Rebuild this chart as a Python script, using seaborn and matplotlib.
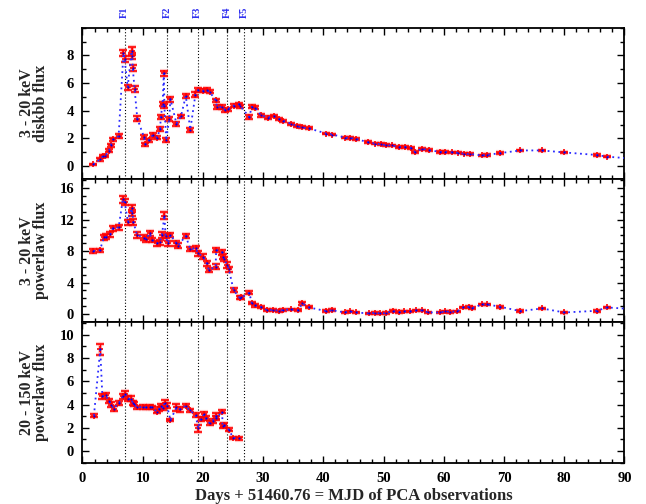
import numpy as np
import pandas as pd
import matplotlib
matplotlib.use("Agg")
import matplotlib.pyplot as plt
from matplotlib.ticker import MultipleLocator
import seaborn as sns

# ---- 3-20 keV disk blackbody flux ----
disk_days = [1.8, 2.9, 3.4, 3.8, 4.4, 4.7, 5.1, 6.0, 6.8, 7.0, 7.5, 8.15, 8.25, 8.35, 8.65,
             9.1, 10.2, 10.45, 11.0, 11.7, 12.4, 12.9, 13.0, 13.3, 13.5, 13.6, 13.9, 14.4,
             14.6, 15.6, 16.35, 17.15, 17.9, 18.75, 19.2, 20.0, 20.6, 21.1, 22.1, 22.35,
             23.2, 23.7, 24.1, 25.1, 26.0, 26.2, 27.7, 28.1, 28.7, 29.6, 30.8, 31.8, 32.7,
             33.3, 34.7, 35.55, 36.4, 37.65, 40.5, 41.5, 43.6, 44.4, 45.4, 47.4, 48.5, 49.5,
             50.4, 51.4, 52.5, 53.6, 54.5, 55.2, 56.4, 57.5, 59.3, 60.2, 61.4, 62.3, 63.3,
             64.4, 66.3, 67.1, 69.4, 72.7, 76.3, 79.9, 85.4, 87.1, 93.0]
disk_flux = [0.12, 0.48, 0.72, 0.75, 1.12, 1.5, 1.93, 2.17, 8.15, 7.72, 5.69, 8.3, 7.96, 7.06, 5.57,
             3.43, 2.11, 1.57, 1.87, 2.25, 2.06, 2.71, 3.55, 4.47, 6.7, 4.33, 1.86, 3.43,
             4.84, 3.07, 3.6, 5.07, 2.63, 5.17, 5.49, 5.44, 5.49, 5.37, 4.76, 4.28,
             4.28, 4.04, 4.11, 4.37, 4.47, 4.33, 3.55, 4.28, 4.23, 3.67, 3.51, 3.6, 3.4,
             3.27, 3.05, 2.9, 2.79, 2.72, 2.35, 2.28, 2.06, 2.04, 1.97, 1.72, 1.63, 1.58,
             1.51, 1.49, 1.37, 1.39, 1.32, 1.03, 1.25, 1.15, 1.03, 1.01, 0.99, 0.96, 0.89,
             0.87, 0.77, 0.8, 0.94, 1.13, 1.13, 0.99, 0.8, 0.68, 0.48]
disk_err = [0.06, 0.08, 0.1, 0.08, 0.1, 0.12, 0.12, 0.12, 0.22, 0.2, 0.2, 0.3, 0.22, 0.22, 0.2,
            0.2, 0.12, 0.12, 0.12, 0.12, 0.12, 0.14, 0.15, 0.15, 0.2, 0.15, 0.15, 0.15,
            0.18, 0.15, 0.12, 0.15, 0.15, 0.15, 0.15, 0.12, 0.12, 0.12, 0.12, 0.12,
            0.12, 0.12, 0.12, 0.1, 0.1, 0.1, 0.12, 0.1, 0.1, 0.1, 0.08, 0.08, 0.08,
            0.08, 0.07, 0.07, 0.07, 0.07, 0.06, 0.06, 0.06, 0.06, 0.06, 0.06, 0.06, 0.06,
            0.06, 0.06, 0.06, 0.06, 0.06, 0.06, 0.06, 0.06, 0.05, 0.05, 0.05, 0.05, 0.05,
            0.05, 0.05, 0.05, 0.05, 0.05, 0.05, 0.05, 0.05, 0.05, 0.05]

# ---- 3-20 keV power-law flux ----
pl_days = [1.8, 2.9, 3.55, 3.95, 4.6, 5.05, 6.0, 6.7, 7.0, 7.55, 8.15, 8.3, 8.45, 9.05,
           10.2, 10.5, 11.15, 11.6, 12.4, 12.8, 13.2, 13.6, 13.8, 14.2, 14.6, 15.6, 15.85,
           17.15, 17.9, 18.8, 19.2, 20.0, 20.6, 21.0, 22.1, 22.2, 23.2, 23.35, 23.5, 24.05,
           24.3, 25.1, 26.1, 26.4, 27.7, 28.1, 28.6, 29.7, 30.7, 31.6, 32.6, 33.3, 34.7,
           35.8, 36.5, 37.6, 40.5, 41.4, 43.6, 44.4, 45.4, 47.5, 48.6, 49.4, 50.4, 51.5,
           52.5, 53.4, 54.4, 55.4, 56.4, 57.4, 59.3, 60.2, 61.1, 62.2, 63.2, 64.2, 64.7,
           66.3, 67.2, 69.4, 72.7, 76.3, 80.0, 85.4, 87.1, 93.0]
pl_flux = [8.0, 8.1, 9.75, 9.8, 10.1, 10.9, 11.0, 14.55, 14.25, 11.65, 13.4, 12.8, 11.7, 10.05,
           9.7, 9.5, 10.25, 9.4, 9.0, 9.1, 10.05, 12.5, 9.9, 9.0, 10.05, 9.0, 8.7,
           9.9, 8.25, 8.35, 7.7, 7.3, 6.45, 5.6, 6.0, 8.15, 7.85, 7.3, 7.0, 6.2,
           5.7, 3.0, 2.07, 2.12, 2.7, 1.43, 1.1, 0.9, 0.48, 0.55, 0.42, 0.55, 0.59,
           0.47, 1.36, 0.85, 0.38, 0.5, 0.21, 0.34, 0.21, 0.09, 0.17, 0.09, 0.13, 0.38,
           0.25, 0.34, 0.34, 0.47, 0.47, 0.21, 0.21, 0.34, 0.3, 0.34, 0.85, 0.93, 0.76,
           1.23, 1.23, 0.93, 0.38, 0.72, 0.21, 0.42, 0.85, 0.55]
pl_err = [0.2, 0.2, 0.3, 0.3, 0.3, 0.3, 0.3, 0.4, 0.4, 0.35, 0.45, 0.4, 0.4, 0.35,
          0.3, 0.3, 0.3, 0.3, 0.3, 0.3, 0.35, 0.4, 0.3, 0.3, 0.3, 0.3, 0.3,
          0.3, 0.3, 0.3, 0.3, 0.3, 0.3, 0.3, 0.3, 0.3, 0.3, 0.3, 0.3, 0.35,
          0.3, 0.25, 0.2, 0.2, 0.2, 0.15, 0.15, 0.12, 0.12, 0.12, 0.12, 0.12, 0.12,
          0.12, 0.15, 0.12, 0.1, 0.1, 0.1, 0.1, 0.1, 0.1, 0.1, 0.1, 0.1, 0.1,
          0.1, 0.1, 0.1, 0.1, 0.1, 0.1, 0.1, 0.1, 0.1, 0.1, 0.1, 0.1, 0.1,
          0.1, 0.1, 0.1, 0.1, 0.1, 0.1, 0.1, 0.1, 0.1]

# ---- 20-150 keV power-law flux ----
hard_days = [1.9, 2.95, 3.3, 3.85, 4.4, 4.75, 5.15, 6.05, 6.7, 7.1, 7.55, 8.1, 8.35, 8.5,
             9.05, 10.0, 10.6, 11.15, 11.5, 12.35, 12.7, 13.1, 13.35, 13.65, 14.05, 14.6,
             15.6, 16.25, 17.15, 17.8, 18.8, 19.2, 19.6, 20.2, 20.45, 21.1, 21.6, 22.15,
             22.25, 23.2, 23.25, 23.5, 24.3, 25.0, 26.0]
hard_flux = [3.05, 8.75, 4.7, 4.8, 4.3, 4.0, 3.65, 4.15, 4.7, 4.9, 4.5, 4.5, 4.15, 4.05,
             3.75, 3.8, 3.75, 3.8, 3.75, 3.4, 3.6, 3.9, 3.7, 4.15, 3.9, 2.65,
             3.75, 3.6, 3.9, 3.5, 3.1, 1.95, 2.75, 3.15, 2.85, 2.4, 2.6, 3.0,
             2.85, 3.4, 2.15, 2.25, 1.85, 1.15, 1.1]
hard_err = [0.15, 0.45, 0.2, 0.2, 0.2, 0.2, 0.2, 0.2, 0.2, 0.25, 0.2, 0.2, 0.2, 0.2,
            0.15, 0.15, 0.15, 0.15, 0.15, 0.15, 0.15, 0.15, 0.2, 0.25, 0.2, 0.1,
            0.3, 0.2, 0.15, 0.15, 0.15, 0.3, 0.2, 0.2, 0.2, 0.15, 0.15, 0.25,
            0.2, 0.15, 0.15, 0.15, 0.15, 0.1, 0.15]

# Flare epochs marked across all panels
flare_days = [7.0, 14.1, 19.1, 24.0, 26.8]
flare_names = ["F1", "F2", "F3", "F4", "F5"]

panel_labels = ["3 - 20 keV\ndiskbb flux", "3 - 20 keV\npowerlaw flux", "20 - 150 keV\npowerlaw flux"]
panel_ylims = [(-0.9, 10.0), (-1.0, 17.2), (-1.0, 11.1)]
panel_yticks = [[0, 2, 4, 6, 8], [0, 4, 8, 12, 16], [0, 2, 4, 6, 8, 10]]
panel_yminor = [1, 1, 1]

sns.set_theme(style="ticks")
plt.rcParams["font.family"] = ["Liberation Serif", "DejaVu Serif"]
plt.rcParams["font.weight"] = "bold"

fig = plt.figure(figsize=(6.46, 5.04), dpi=100)
left, right = 0.1277, 0.9667
bounds = [(0.6458, 0.9450), (0.3611, 0.6458), (0.0819, 0.3611)]
axes = [fig.add_axes([left, b, right - left, t - b]) for b, t in bounds]

series = [(disk_days, disk_flux, disk_err), (pl_days, pl_flux, pl_err), (hard_days, hard_flux, hard_err)]

for i, (ax, (d, f, e)) in enumerate(zip(axes, series)):
    df = pd.DataFrame({"day": d, "flux": f, "err": e})
    # soft halo under the error bars
    ax.errorbar(df["day"], df["flux"], yerr=df["err"], fmt="none", ecolor="#ff7f7f",
                elinewidth=3.0, capsize=3.2, capthick=3.0, alpha=0.45, zorder=2)
    ax.errorbar(df["day"], df["flux"], yerr=df["err"], fmt="+", color="red", ecolor="red",
                elinewidth=1.0, capsize=2.6, capthick=1.0, markersize=4, mew=1.2, zorder=3)
    sns.lineplot(data=df, x="day", y="flux", ax=ax, estimator=None, sort=False,
                 color="#2a2aff", linestyle=(0, (1, 2)), linewidth=1.3, zorder=4,
                 marker="o", markersize=1.5, markeredgewidth=0, markerfacecolor="#0000ee")
    for fd in flare_days:
        ax.axvline(fd, color="black", linestyle=(0, (1, 1.8)), linewidth=0.8, zorder=1)

    ax.set_xlim(0, 90)
    ax.set_ylim(*panel_ylims[i])
    ax.set_yticks(panel_yticks[i])
    ax.yaxis.set_minor_locator(MultipleLocator(panel_yminor[i]))
    ax.xaxis.set_major_locator(MultipleLocator(10))
    ax.xaxis.set_minor_locator(MultipleLocator(2))
    ax.tick_params(which="both", direction="in", top=True, right=True, colors="black",
                   labelsize=10.5, width=1.0)
    ax.tick_params(which="major", length=5)
    ax.tick_params(which="minor", length=2.8)
    ax.tick_params(axis="y", pad=6)
    ax.tick_params(axis="x", pad=7)
    for lab in ax.get_xticklabels() + ax.get_yticklabels():
        lab.set_fontweight("bold")
    for sp in ax.spines.values():
        sp.set_linewidth(1.3)
        sp.set_color("black")
    ax.set_ylabel(panel_labels[i], fontsize=11.5, fontweight="bold", linespacing=0.85)
    ax.yaxis.set_label_coords(-0.061, 0.5)
    ax.set_xlabel("")
    if i < 2:
        ax.tick_params(labelbottom=False)

axes[2].set_xlabel("Days + 51460.76 = MJD of PCA observations", fontsize=12,
                   fontweight="bold", labelpad=1.5)

for fd, name in zip(flare_days, flare_names):
    axes[0].annotate(name, xy=(fd, 1.0), xycoords=("data", "axes fraction"),
                     xytext=(0, 6.8), textcoords="offset points", rotation=90,
                     ha="center", va="bottom", color="#3030f0", fontsize=7.5,
                     fontweight="bold")

fig.savefig("out.png", dpi=100, facecolor="white")
